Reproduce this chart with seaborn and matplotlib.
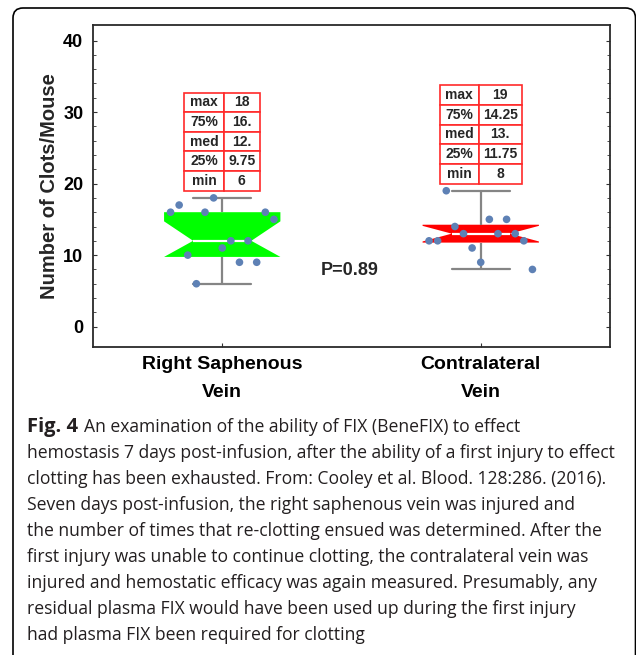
import numpy as np
import pandas as pd
import seaborn as sns
import matplotlib.pyplot as plt
from matplotlib.patches import FancyBboxPatch
from matplotlib.path import Path

# clots per mouse, in the order the dots sit left to right
right_saphenous = [16, 17, 10, 6, 16, 18, 11, 12, 9, 12, 9, 16, 15]
contralateral = [12, 12, 19, 14, 13, 11, 9, 15, 13, 15, 13, 12, 8]
groups = ['Right Saphenous\nVein', 'Contralateral\nVein']
box_colors = ['#00ff00', '#ff0000']

stat_names = ['max', '75%', 'med', '25%', 'min']
right_stats = ['18', '16.', '12.', '9.75', '6']
contra_stats = ['19', '14.25', '13.', '11.75', '8']
p_text = 'P=0.89'

caption_first = 'An examination of the ability of FIX (BeneFIX) to effect'
caption_lines = [
    'hemostasis 7 days post-infusion, after the ability of a first injury to effect',
    'clotting has been exhausted. From: Cooley et al. Blood. 128:286. (2016).',
    'Seven days post-infusion, the right saphenous vein was injured and',
    'the number of times that re-clotting ensued was determined. After the',
    'first injury was unable to continue clotting, the contralateral vein was',
    'injured and hemostatic efficacy was again measured. Presumably, any',
    'residual plasma FIX would have been used up during the first injury',
    'had plasma FIX been required for clotting',
]

df = pd.DataFrame({
    'vein': [groups[0]] * len(right_saphenous) + [groups[1]] * len(contralateral),
    'clots': right_saphenous + contralateral,
})

sns.set_style('ticks')
plt.rcParams['font.family'] = ['Liberation Sans', 'DejaVu Sans']

fig = plt.figure(figsize=(6.36, 6.55), dpi=100)
ax = fig.add_axes([0.1462, 0.4707, 0.8129, 0.4904])

sns.boxplot(data=df, x='vein', y='clots', hue='vein', palette=box_colors,
            legend=False, saturation=1, width=0.45, notch=True, whis=(0, 100),
            showfliers=False, linewidth=1.6,
            boxprops=dict(edgecolor='none'),
            whiskerprops=dict(color='#858585'),
            capprops=dict(color='#858585'),
            medianprops=dict(color='white', linewidth=1.6),
            ax=ax)

# the original used hazen quartiles and kept the notch inside the box
for i, vals in enumerate([right_saphenous, contralateral]):
    v = np.array(vals)
    q1, med, q3 = np.percentile(v, [25, 50, 75], method='hazen')
    old_q1, old_q3 = np.percentile(v, [25, 75])
    half = 1.57 * (q3 - q1) / np.sqrt(len(v))
    lo, hi = max(med - half, q1), min(med + half, q3)
    patch = ax.patches[i]
    verts = patch.get_path().vertices.copy()
    verts[:11, 1] = [q1, q1, lo, med, hi, q3, q3, hi, med, lo, q1]
    verts[11:, 1] = q1
    patch.set_path(Path(verts, patch.get_path().codes))
    for line in ax.lines:
        x, y = np.asarray(line.get_xdata()), np.asarray(line.get_ydata())
        if len(x) == 2 and abs(x[0] - i) < 1e-6 and abs(x[1] - i) < 1e-6:
            if np.isclose(y[0], old_q1):
                line.set_ydata([q1, y[1]])
            elif np.isclose(y[0], old_q3):
                line.set_ydata([q3, y[1]])

# dots spread evenly across each box
for i, vals in enumerate([right_saphenous, contralateral]):
    xs = i + np.linspace(-0.2, 0.2, len(vals))
    sns.scatterplot(x=xs, y=vals, color='#5e81b5', s=30, edgecolor='none',
                    zorder=5, legend=False, ax=ax)

ax.set_xlim(-0.5, 1.5)
ax.set_ylim(-2.8, 42.1)
ax.set_xticks([0, 1])
ax.set_xticklabels(groups, fontsize=14, fontweight='bold', linespacing=1.8)
ax.set_yticks([0, 10, 20, 30, 40])
ax.set_yticks(np.arange(0, 42, 2), minor=True)
ax.set_yticklabels(['0', '10', '20', '30', '40'], fontsize=13, fontweight='bold')
ax.set_xlabel('')
ax.set_ylabel('Number of Clots/Mouse', fontsize=14.5, fontweight='bold', labelpad=3)
ax.tick_params(axis='both', which='both', direction='in', right=True, colors='#333333')
ax.tick_params(axis='y', which='major', length=3, pad=7, labelcolor='black')
ax.tick_params(axis='y', which='minor', length=2)
ax.tick_params(axis='x', length=3, pad=7, labelcolor='black')
for s in ax.spines.values():
    s.set_visible(True)
    s.set_color('#2a2a2a')
    s.set_linewidth(1.3)

ax.text(0.493, 7.9, p_text, fontsize=13, fontweight='bold', ha='center', va='center')


def add_table(vals, bbox, widths):
    tb = ax.table(cellText=[[n, v] for n, v in zip(stat_names, vals)],
                  cellLoc='center', bbox=bbox, colWidths=widths)
    tb.auto_set_font_size(False)
    tb.set_fontsize(10)
    for cell in tb.get_celld().values():
        cell.set_edgecolor('#ff2a2a')
        cell.set_linewidth(1.2)
        cell.get_text().set_fontweight('bold')


add_table(right_stats, [0.1766, 0.4857, 0.1464, 0.3051], [0.52, 0.48])
add_table(contra_stats, [0.6706, 0.5065, 0.1586, 0.3082], [0.476, 0.524])

# caption
cap_font = ['Open Sans', 'DejaVu Sans']
x0 = 27 / 636
y0 = 1 - 427 / 655
step = 26 / 655
t = fig.text(x0, y0, 'Fig. 4', fontsize=14.5, fontweight='bold', family=cap_font,
             color='#231f20', va='center')
r = fig.canvas.get_renderer()
w = t.get_window_extent(r).width / 636
fig.text(x0 + w + 6 / 636, y0, caption_first, fontsize=12.65, family=cap_font,
         color='#231f20', va='center')
for k, line in enumerate(caption_lines):
    fig.text(x0, y0 - (k + 1) * step, line, fontsize=12.65, family=cap_font,
             color='#231f20', va='center')

border = FancyBboxPatch((0.13, -0.3), 6.225, 6.47 + 0.3,
                        boxstyle='round,pad=0,rounding_size=0.1',
                        transform=fig.dpi_scale_trans, fill=False,
                        edgecolor='black', linewidth=1.2)
fig.patches.append(border)

fig.savefig('out.png', dpi=100)
